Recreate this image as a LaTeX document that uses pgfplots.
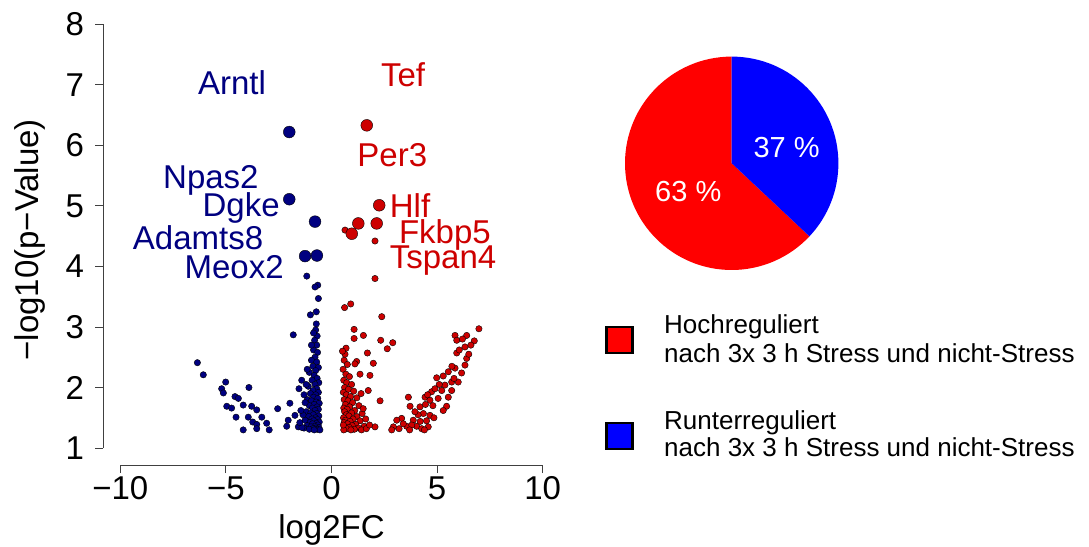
\documentclass[border=0pt]{standalone}
\usepackage{pgfplots}
\pgfplotsset{compat=1.18}
\usepackage{fontspec}
\setmainfont{Liberation Sans}
\definecolor{navy}{RGB}{0,0,128}
\definecolor{redthree}{RGB}{205,0,0}
\newcommand{\bigtxt}{\fontsize{33bp}{38bp}\selectfont}
\newcommand{\leg}{\fontsize{26bp}{29bp}\selectfont}
\begin{document}
\begin{tikzpicture}
\path[use as bounding box] (0,0) rectangle (1089bp,547bp);

% volcano plot
\begin{axis}[
  scale only axis, width=456.2bp, height=457.7bp,
  at={(103.4bp,82bp)}, anchor=south west,
  xmin=-10.8, xmax=10.8, ymin=0.72, ymax=8.28,
  axis lines*=left, axis line style={draw=none},
  tick align=outside, major tick length=8bp,
  tick style={black!75, line width=0.9bp},
  xtick={-10,-5,0,5,10}, xticklabels={−10,−5,0,5,10},
  ytick={1,2,3,4,5,6,7,8}, yticklabels={1,2,3,4,5,6,7,8},
  ticklabel style={font=\bigtxt},
  yticklabel style={xshift=-8bp},
  xlabel={log2FC}, ylabel={−log10(p−Value)},
  label style={font=\bigtxt},
  xlabel style={at={(axis description cs:0.5,-0.142)}, anchor=center},
  ylabel style={at={(axis description cs:-0.161,0.492)}, anchor=center},
  clip=false,
]
\draw[black!75, line width=0.9bp] (axis cs:-10,0.72) -- (axis cs:10,0.72);
\draw[black!75, line width=0.9bp] (axis cs:-10.8,1) -- (axis cs:-10.8,8);

% down-regulated, small
\addplot[only marks, mark=*, mark size=3.2bp, mark options={draw=none, fill=navy}] coordinates {
(-6.35,2.41) (-6.07,2.21) (-5.01,2.09) (-5.20,1.98) (-5.12,1.91) (-3.91,2.00)
(-4.57,1.85) (-4.41,1.82) (-4.96,1.69) (-4.73,1.66) (-4.18,1.71) (-3.78,1.69)
(-3.54,1.63) (-4.52,1.51) (-3.94,1.51) (-3.30,1.51) (-3.73,1.43) (-3.54,1.39)
(-3.07,1.41) (-4.18,1.30) (-3.54,1.32) (-2.95,1.30) (-2.55,1.65) (-1.81,2.87)
(-1.97,1.74) (-1.54,1.98) (-1.41,2.12) (-1.73,1.54) (-2.05,1.46) (-2.12,1.36)
(-1.57,1.35) (-1.17,1.46)
(-0.62,3.47) (-0.65,3.69) (-0.78,3.66) (-1.17,3.84)
(-0.72,3.05) (-0.75,2.95) (-0.68,2.85) (-0.80,2.78) (-0.70,2.70) (-0.85,2.62)
(-0.66,2.58) (-0.78,2.50) (-0.95,2.45) (-0.70,2.42) (-0.88,2.35) (-0.62,2.33)
(-0.75,2.28) (-1.05,2.25) (-0.82,2.20) (-0.68,2.15) (-0.92,2.12) (-0.60,2.08)
(-0.78,2.05) (-1.10,2.02) (-0.70,1.98) (-0.88,1.95) (-0.62,1.92) (-1.00,1.90)
(-0.75,1.88) (-0.85,1.84) (-0.65,1.82) (-1.15,1.80) (-0.95,1.78) (-0.72,1.76)
(-0.58,1.74) (-0.82,1.72) (-1.05,1.70) (-0.68,1.68) (-0.90,1.66) (-0.62,1.64)
(-0.78,1.62) (-1.20,1.60) (-0.98,1.58) (-0.70,1.57) (-0.86,1.55) (-0.60,1.53)
(-1.08,1.52) (-0.76,1.50) (-0.93,1.48) (-0.66,1.47) (-1.25,1.46) (-0.84,1.45)
(-0.58,1.43) (-1.02,1.42) (-0.72,1.41) (-0.90,1.40) (-0.64,1.38) (-1.15,1.37)
(-0.80,1.36) (-0.97,1.35) (-0.60,1.34) (-0.74,1.33) (-1.30,1.33) (-0.88,1.32)
(-0.67,1.31) (-1.05,1.31) (-0.55,1.30) (-0.82,1.30) (-1.40,1.34) (-1.50,1.42)
(-1.35,1.55) (-1.45,1.62) (-1.25,1.75) (-1.30,1.88) (-1.20,2.05) (-1.15,2.30)
(-0.95,2.70) (-0.85,2.90) (-1.00,3.20) (-0.72,3.25)
};
% down-regulated, labelled
\addplot[only marks, mark=*, mark size=5.9bp, mark options={draw=none, fill=navy}] coordinates {
(-2.00,6.22) (-2.00,5.11) (-0.78,4.74) (-1.25,4.17) (-0.69,4.18)
};

% up-regulated, small
\addplot[only marks, mark=*, mark size=3.2bp, mark options={draw=none, fill=redthree}] coordinates {
(2.06,4.42) (2.06,3.80) (0.64,4.60)
(0.62,3.32) (0.91,3.38) (2.38,3.17) (1.07,2.96) (1.51,2.86) (1.07,2.81)
(2.33,2.78) (2.90,2.74) (2.64,2.64) (0.69,2.65) (1.70,2.57) (0.64,2.55)
(1.19,2.43) (1.98,2.40) (1.11,2.39) (1.82,2.20) (1.35,2.22) (1.74,1.95)
(2.30,1.78) (2.06,1.35)
(0.60,2.45) (0.75,2.38) (0.55,2.30) (0.68,2.22) (0.85,2.18) (0.58,2.12)
(0.72,2.08) (0.95,2.05) (0.62,2.00) (0.80,1.97) (1.05,1.94) (0.56,1.92)
(0.70,1.88) (0.90,1.85) (1.20,1.83) (0.60,1.80) (0.78,1.78) (1.00,1.75)
(0.66,1.72) (1.30,1.70) (0.86,1.68) (0.58,1.66) (0.74,1.64) (1.10,1.62)
(0.62,1.60) (0.95,1.58) (1.45,1.57) (0.70,1.55) (0.82,1.53) (1.20,1.52)
(0.57,1.50) (1.02,1.48) (0.66,1.46) (1.35,1.45) (0.88,1.44) (0.60,1.42)
(0.76,1.40) (1.15,1.39) (0.98,1.37) (1.55,1.36) (0.64,1.35) (0.84,1.34)
(1.28,1.33) (0.72,1.32) (1.08,1.31) (0.58,1.30) (0.92,1.30) (1.42,1.30)
(1.65,1.32) (1.80,1.38) (1.62,1.48) (1.50,1.65) (1.40,1.90) (0.52,2.60)
(0.56,1.38)
(6.98,2.97) (5.85,2.86) (6.40,2.86) (6.76,2.77) (5.93,2.57) (6.32,2.67)
(6.40,2.48) (6.32,2.37) (5.85,2.32) (5.53,2.26) (5.29,2.19) (4.98,2.16)
(6.16,2.24) (6.00,2.09) (5.69,2.09) (5.37,2.04) (5.22,1.95) (4.74,1.93)
(5.69,1.95) (5.53,1.84) (3.64,1.84) (4.43,1.84) (4.66,1.79) (3.72,1.69)
(4.19,1.68) (5.45,1.69) (5.29,1.62) (4.35,1.57) (4.66,1.54) (3.32,1.49)
(3.87,1.46) (3.09,1.46) (2.93,1.35) (3.56,1.36) (4.03,1.36) (4.58,1.35)
(4.27,1.32) (5.93,2.78) (6.20,2.80) (6.05,2.62) (5.70,2.35) (5.10,2.05)
(4.90,1.98) (4.55,1.88) (4.80,1.70) (4.45,1.72) (4.10,1.55) (3.95,1.60)
(4.50,1.45) (4.20,1.44) (3.80,1.38) (3.40,1.40) (3.20,1.32) (2.85,1.30)
(3.70,1.30) (4.40,1.30) (4.85,1.50) (5.05,1.82) (5.80,2.15) (6.50,2.55)
(6.60,2.70)
};
% up-regulated, labelled
\addplot[only marks, mark=*, mark size=5.9bp, mark options={draw=none, fill=redthree}] coordinates {
(1.67,6.33) (2.26,5.01) (1.27,4.71) (2.14,4.71) (0.96,4.54)
};

\begin{scope}[every node/.style={font=\bigtxt, inner sep=0pt}]
\node[text=navy] at (axis cs:-4.71,7.04) {Arntl};
\node[text=navy] at (axis cs:-5.71,5.42) {Npas2};
\node[text=navy] at (axis cs:-4.28,4.96) {Dgke};
\node[text=navy] at (axis cs:-6.32,4.47) {Adamts8};
\node[text=navy] at (axis cs:-4.61,3.99) {Meox2};
\node[text=redthree] at (axis cs:3.39,7.16) {Tef};
\node[text=redthree] at (axis cs:2.88,5.84) {Per3};
\node[text=redthree] at (axis cs:3.72,5.01) {Hlf};
\node[text=redthree] at (axis cs:5.37,4.52) {Fkbp5};
\node[text=redthree] at (axis cs:5.28,4.10) {Tspan4};
\end{scope}
\end{axis}

% pie chart: 63 % up, 37 % down
\begin{axis}[
  scale only axis, width=213.4bp, height=213.4bp,
  at={(731.7bp,383.7bp)}, anchor=center,
  xmin=-1, xmax=1, ymin=-1, ymax=1, hide axis, clip=false,
]
\fill[red] (axis cs:0,0) -- (axis cs:0,1) arc[start angle=90, delta angle=3.6*63, radius=1] -- cycle;
\fill[blue] (axis cs:0,0) -- (axis cs:0,1) arc[start angle=90, delta angle=-3.6*37, radius=1] -- cycle;
\node[text=white, font=\fontsize{29bp}{34bp}\selectfont] at (axis cs:0.515,0.15) {37 \%};
\node[text=white, font=\fontsize{29bp}{34bp}\selectfont] at (axis cs:-0.407,-0.266) {63 \%};
\end{axis}

% legend
\node[draw=black, line width=2.2bp, fill=red, minimum size=26bp, inner sep=0pt] at (619.5bp,207bp) {};
\node[draw=black, line width=2.2bp, fill=blue, minimum size=26bp, inner sep=0pt] at (619.5bp,111bp) {};
\node[anchor=base west, font=\leg, inner sep=0pt] at (664bp,213bp) {Hochreguliert};
\node[anchor=base west, font=\leg, inner sep=0pt] at (664bp,184bp) {nach 3x 3 h Stress und nicht-Stress};
\node[anchor=base west, font=\leg, inner sep=0pt] at (664bp,117.7bp) {Runterreguliert};
\node[anchor=base west, font=\leg, inner sep=0pt] at (664bp,90bp) {nach 3x 3 h Stress und nicht-Stress};
\end{tikzpicture}
\end{document}
